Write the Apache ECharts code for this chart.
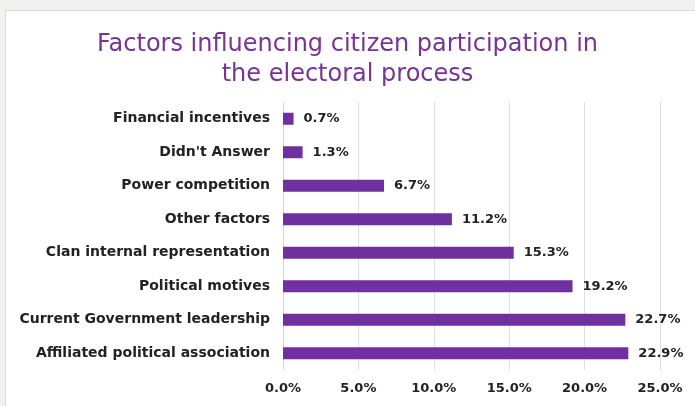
<!DOCTYPE html>
<html>
<head>
<meta charset="utf-8">
<script src="https://cdn.jsdelivr.net/npm/echarts@6/dist/echarts.min.js"></script>
<style>
  html, body { margin: 0; padding: 0; background: #f3f1ef; }
  #frame { position: absolute; left: 5px; top: 10px; width: 700px; height: 400px; background: #ffffff; border: 1px solid #dcdad8; }
  #chart { position: absolute; left: 0; top: 0; width: 695px; height: 406px; }
</style>
</head>
<body>
<div id="frame"></div>
<div id="chart"></div>
<script>
// Survey answers, listed bottom-to-top as drawn on the category axis
const categories = [
  'Affiliated political association',
  'Current Government leadership',
  'Political motives',
  'Clan internal representation',
  'Other factors',
  'Power competition',
  "Didn't Answer",
  'Financial incentives'
];
const shares = [22.9, 22.7, 19.2, 15.3, 11.2, 6.7, 1.3, 0.7];
const axisTicks = [0, 5, 10, 15, 20, 25];

const font = '"DejaVu Sans", Verdana, sans-serif';
const chart = echarts.init(document.getElementById('chart'), null, { renderer: 'canvas' });
chart.setOption({
  backgroundColor: 'transparent',
  animation: false,
  title: {
    text: 'Factors influencing citizen participation in\nthe electoral process',
    left: 'center',
    top: 25,
    textStyle: {
      color: '#763494',
      fontFamily: font,
      fontWeight: 'normal',
      fontSize: 24,
      lineHeight: 30
    }
  },
  grid: { left: 283, right: 35, top: 102, bottom: 36 },
  xAxis: {
    type: 'value',
    min: axisTicks[0],
    max: axisTicks[axisTicks.length - 1],
    interval: 5,
    axisLine: { show: false },
    axisTick: { show: false },
    splitLine: { lineStyle: { color: '#dedede', width: 1 } },
    axisLabel: {
      color: '#222',
      fontFamily: font,
      fontWeight: 700,
      fontSize: 13,
      margin: 12,
      formatter: v => v.toFixed(1) + '%'
    }
  },
  yAxis: {
    type: 'category',
    data: categories,
    axisLine: { show: true, lineStyle: { color: '#d6d6d6' } },
    axisTick: { show: false },
    axisLabel: {
      color: '#222',
      fontFamily: font,
      fontWeight: 700,
      fontSize: 14,
      margin: 13
    }
  },
  series: [{
    type: 'bar',
    data: shares,
    barWidth: 12,
    itemStyle: { color: '#7030a0' },
    label: {
      show: true,
      position: 'right',
      distance: 10,
      color: '#222',
      fontFamily: font,
      fontWeight: 700,
      fontSize: 13,
      formatter: p => p.value.toFixed(1) + '%'
    }
  }]
});
</script>
</body>
</html>
